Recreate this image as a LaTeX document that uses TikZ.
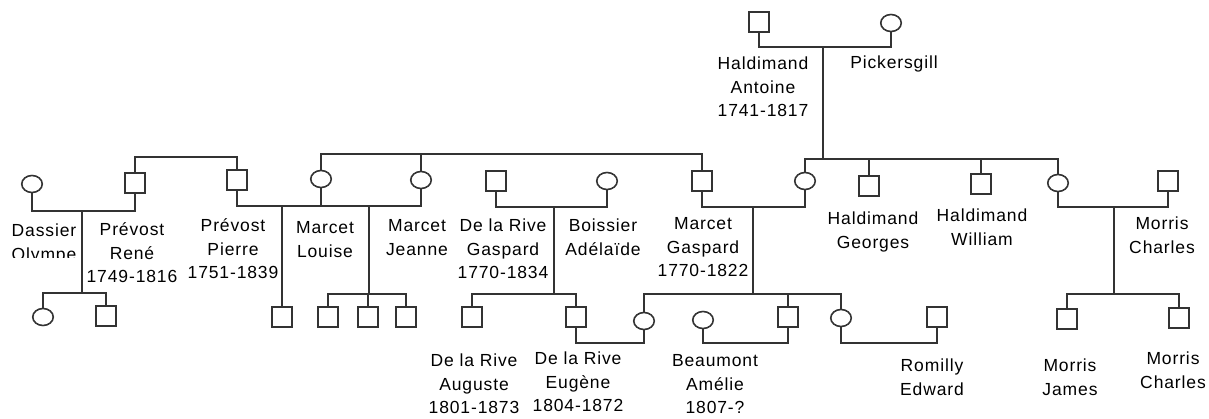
\documentclass[tikz,border=0pt]{standalone}
\usepackage{fontspec}
\setmainfont{Liberation Sans}[LetterSpace=5]
\usetikzlibrary{shapes.geometric}
\definecolor{lc}{HTML}{333333}
\begin{document}
\begin{tikzpicture}[x=1pt,y=-1pt,
  sq/.style={rectangle, draw=lc, line width=1.8pt, fill=white, minimum width=19.5pt, minimum height=19.5pt, inner sep=0pt},
  ci/.style={ellipse, draw=lc, line width=1.6pt, fill=white, minimum width=20.5pt, minimum height=17pt, inner sep=0pt},
  lk/.style={draw=lc, line width=1.8pt},
  lbl/.style={anchor=north, yshift=10pt, inner sep=0pt, align=center, text=black, font=\fontsize{17.5}{23.5}\selectfont}]
\useasboundingbox (0,0) rectangle (1209,418);

% generation 1
\node[sq] (ant) at (759,22) {};
\node[ci] (pic) at (891,23) {};
% generation 2
\node[ci] (dass) at (32,184) {};
\node[sq] (rene) at (135,183) {};
\node[sq] (pier) at (237,180) {};
\node[ci] (lou) at (321,179) {};
\node[ci] (jea) at (421,180) {};
\node[sq] (dlrg) at (496,181) {};
\node[ci] (boi) at (607,181) {};
\node[sq] (mg) at (702,181) {};
\node[ci] (hd) at (805,181) {};
\node[sq] (geo) at (869,186) {};
\node[sq] (wil) at (981,184) {};
\node[ci] (mw) at (1058,183) {};
\node[sq] (mch) at (1168,181) {};
% generation 3
\node[ci] (c1) at (43,317) {};
\node[sq] (c2) at (106,316) {};
\node[sq] (c3) at (282,317) {};
\node[sq] (c4) at (328,317) {};
\node[sq] (c5) at (368,317) {};
\node[sq] (c6) at (406,317) {};
\node[sq] (aug) at (472,317) {};
\node[sq] (eug) at (576,317) {};
\node[ci] (sop) at (644,321) {};
\node[ci] (bea) at (703,320) {};
\node[sq] (ms) at (788,317) {};
\node[ci] (md) at (841,318) {};
\node[sq] (rom) at (937,317) {};
\node[sq] (jam) at (1067,319) {};
\node[sq] (cha) at (1179,318) {};

% connectors
\coordinate (u0) at (823,47);
\coordinate (s0) at (823,159);
\draw[lk] (ant.south) |- (u0) -| (pic.south);
\draw[lk] (u0) -- (s0);
\draw[lk] (hd.north) |- (s0) -| (mw.north);
\draw[lk] (geo.north) -- (geo.north |- s0);
\draw[lk] (wil.north) -- (wil.north |- s0);

\coordinate (s1) at (186,157);
\draw[lk] (rene.north) |- (s1) -| (pier.north);
\coordinate (s2) at (500,154);
\draw[lk] (lou.north) |- (s2) -| (mg.north);
\draw[lk] (jea.north) -- (jea.north |- s2);

\coordinate (u1) at (82,211);
\coordinate (k1) at (82,293);
\draw[lk] (dass.south) |- (u1) -| (rene.south);
\draw[lk] (u1) -- (k1);
\draw[lk] (c1.north) |- (k1) -| (c2.north);

\coordinate (u2) at (282,206);
\coordinate (u3) at (369,206);
\coordinate (k3) at (369,294);
\draw[lk] (pier.south) |- (u2) -| (lou.south);
\draw[lk] (lou.south) |- (u3) -| (jea.south);
\draw[lk] (u2) -- (c3.north);
\draw[lk] (u3) -- (k3);
\draw[lk] (c4.north) |- (k3) -| (c6.north);
\draw[lk] (c5.north) -- (c5.north |- k3);

\coordinate (u4) at (554,207);
\coordinate (k4) at (554,294);
\draw[lk] (dlrg.south) |- (u4) -| (boi.south);
\draw[lk] (u4) -- (k4);
\draw[lk] (aug.north) |- (k4) -| (eug.north);

\coordinate (u5) at (753,207);
\coordinate (k5) at (753,294);
\draw[lk] (mg.south) |- (u5) -| (hd.south);
\draw[lk] (u5) -- (k5);
\draw[lk] (sop.north) |- (k5) -| (md.north);
\draw[lk] (ms.north) -- (ms.north |- k5);

\coordinate (u6) at (1114,207);
\coordinate (k6) at (1114,294);
\draw[lk] (mw.south) |- (u6) -| (mch.south);
\draw[lk] (u6) -- (k6);
\draw[lk] (jam.north) |- (k6) -| (cha.north);

\coordinate (u7) at (610,343);
\coordinate (u8) at (745,343);
\coordinate (u9) at (890,343);
\draw[lk] (eug.south) |- (u7) -| (sop.south);
\draw[lk] (bea.south) |- (u8) -| (ms.south);
\draw[lk] (md.south) |- (u9) -| (rom.south);

% labels
\node[lbl] (lant) at (763,63) {\strut Haldimand\\Antoine\\1741-1817};
\node[lbl] (lpic) at (894,62) {\strut Pickersgill};
\begin{scope}
\clip (0,200) rectangle (90,257);
\node[lbl] (ldas) at (44,230) {\strut Dassier\\Olympe};
\end{scope}
\node[lbl] (lren) at (132,229) {\strut Prévost\\René\\1749-1816};
\node[lbl] (lpie) at (233,225) {\strut Prévost\\Pierre\\1751-1839};
\node[lbl] (llou) at (325,227) {\strut Marcet\\Louise};
\node[lbl] (ljea) at (417,225) {\strut Marcet\\Jeanne};
\node[lbl] (ldlg) at (503,225) {\strut De la Rive\\Gaspard\\1770-1834};
\node[lbl] (lboi) at (603,225) {\strut Boissier\\Adélaïde};
\node[lbl] (lmg) at (703,223) {\strut Marcet\\Gaspard\\1770-1822};
\node[lbl] (lgeo) at (873,218) {\strut Haldimand\\Georges};
\node[lbl] (lwil) at (982,215) {\strut Haldimand\\William};
\node[lbl] (lmch) at (1162,223) {\strut Morris\\Charles};
\node[lbl] (laug) at (474,360) {\strut De la Rive\\Auguste\\1801-1873};
\node[lbl] (leug) at (578,358) {\strut De la Rive\\Eugène\\1804-1872};
\node[lbl] (lbea) at (715,360) {\strut Beaumont\\Amélie\\1807-?};
\node[lbl] (lrom) at (932,365) {\strut Romilly\\Edward};
\node[lbl] (ljam) at (1070,365) {\strut Morris\\James};
\node[lbl] (lcha) at (1173,358) {\strut Morris\\Charles};
\end{tikzpicture}
\end{document}
